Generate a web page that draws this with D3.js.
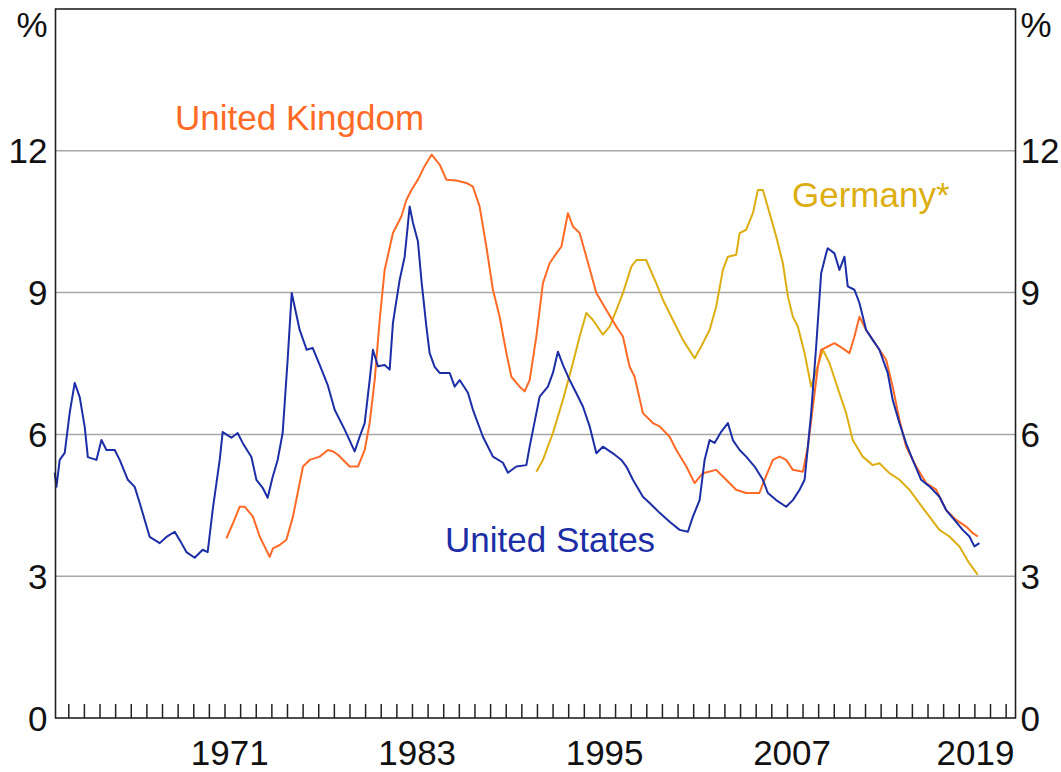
<!DOCTYPE html>
<html>
<head>
<meta charset="UTF-8">
<title>Unemployment Rates</title>
<script src="https://d3js.org/d3.v7.min.js"></script>
<style>
  body { margin: 0; background: #fff; }
  text { font-family: "Liberation Sans", Arial, sans-serif; }
</style>
</head>
<body>
<div id="chart"></div>
<script>
// values: [decimal year, per cent]
const usData = [
  [1960.10, 5.19], [1960.21, 4.89], [1960.42, 5.46], [1960.74, 5.61], [1961.06, 6.46],
  [1961.38, 7.09], [1961.70, 6.79], [1962.02, 6.16], [1962.22, 5.52], [1962.77, 5.46],
  [1963.09, 5.88], [1963.41, 5.67], [1963.94, 5.67], [1964.26, 5.46], [1964.78, 5.04],
  [1965.22, 4.89], [1965.54, 4.55], [1966.18, 3.83], [1966.82, 3.70], [1967.25, 3.83],
  [1967.78, 3.94], [1968.21, 3.70], [1968.53, 3.51], [1969.06, 3.39], [1969.57, 3.56],
  [1969.89, 3.51], [1970.21, 4.40], [1970.66, 5.46], [1970.85, 6.05], [1971.41, 5.93],
  [1971.81, 6.03], [1972.13, 5.82], [1972.69, 5.52], [1973.01, 5.04], [1973.41, 4.87],
  [1973.73, 4.66], [1974.05, 5.10], [1974.37, 5.46], [1974.69, 6.03], [1975.01, 7.58],
  [1975.27, 8.99], [1975.78, 8.21], [1976.23, 7.79], [1976.61, 7.83], [1977.06, 7.47],
  [1977.57, 7.05], [1978.02, 6.52], [1978.66, 6.10], [1979.30, 5.64], [1979.62, 5.95],
  [1979.94, 6.24], [1980.26, 7.15], [1980.47, 7.79], [1980.79, 7.44], [1981.22, 7.47],
  [1981.54, 7.37], [1981.75, 8.36], [1982.18, 9.27], [1982.50, 9.76], [1982.82, 10.82],
  [1983.03, 10.48], [1983.35, 10.08], [1983.57, 9.27], [1983.89, 8.28], [1984.10, 7.72],
  [1984.42, 7.43], [1984.74, 7.30], [1985.38, 7.30], [1985.70, 7.01], [1986.02, 7.15],
  [1986.55, 6.88], [1986.87, 6.52], [1987.51, 5.95], [1988.15, 5.53], [1988.79, 5.40],
  [1989.11, 5.19], [1989.65, 5.32], [1990.29, 5.35], [1990.50, 5.74], [1990.93, 6.45],
  [1991.14, 6.80], [1991.67, 7.01], [1991.99, 7.30], [1992.31, 7.75], [1992.63, 7.47],
  [1993.06, 7.15], [1993.49, 6.87], [1993.91, 6.59], [1994.34, 6.17], [1994.77, 5.60],
  [1995.19, 5.74], [1995.83, 5.60], [1996.37, 5.46], [1996.69, 5.32], [1997.11, 5.04],
  [1997.75, 4.68], [1998.18, 4.55], [1998.82, 4.34], [1999.46, 4.15], [2000.10, 3.98],
  [2000.63, 3.94], [2000.95, 4.26], [2001.38, 4.61], [2001.70, 5.46], [2002.02, 5.88],
  [2002.34, 5.82], [2002.77, 6.06], [2003.19, 6.24], [2003.51, 5.88], [2003.94, 5.67],
  [2004.36, 5.53], [2004.90, 5.32], [2005.43, 5.04], [2005.75, 4.76], [2006.28, 4.61],
  [2006.92, 4.47], [2007.35, 4.61], [2007.78, 4.83], [2008.10, 5.04], [2008.31, 5.74],
  [2008.52, 6.45], [2008.84, 7.86], [2009.16, 9.41], [2009.48, 9.83], [2009.58, 9.94],
  [2010.01, 9.83], [2010.33, 9.48], [2010.65, 9.76], [2010.86, 9.13], [2011.29, 9.06],
  [2011.61, 8.78], [2012.04, 8.21], [2012.46, 8.00], [2012.89, 7.79], [2013.42, 7.30],
  [2013.74, 6.73], [2014.17, 6.24], [2014.60, 5.81], [2015.02, 5.46], [2015.56, 5.04],
  [2016.09, 4.90], [2016.73, 4.68], [2017.16, 4.40], [2017.69, 4.19], [2018.22, 3.98],
  [2018.65, 3.84], [2018.97, 3.63], [2019.29, 3.70]
];

const ukData = [
  [1971.09, 3.80], [1971.51, 4.12], [1971.94, 4.47], [1972.26, 4.47], [1972.79, 4.26],
  [1973.22, 3.84], [1973.86, 3.41], [1974.07, 3.59], [1974.50, 3.66], [1974.93, 3.77],
  [1975.35, 4.26], [1975.99, 5.32], [1976.42, 5.46], [1977.06, 5.53], [1977.59, 5.67],
  [1977.91, 5.64], [1978.23, 5.57], [1978.98, 5.32], [1979.51, 5.32], [1979.94, 5.67],
  [1980.26, 6.24], [1980.58, 7.15], [1980.90, 8.42], [1981.22, 9.48], [1981.75, 10.26],
  [1982.29, 10.61], [1982.61, 10.96], [1982.93, 11.17], [1983.35, 11.39], [1983.78, 11.68],
  [1984.23, 11.92], [1984.74, 11.71], [1985.17, 11.39], [1985.81, 11.37], [1986.45, 11.32],
  [1986.87, 11.24], [1987.30, 10.82], [1987.73, 9.97], [1988.15, 9.06], [1988.58, 8.49],
  [1989.01, 7.72], [1989.33, 7.22], [1989.86, 7.01], [1990.18, 6.91], [1990.50, 7.15],
  [1990.93, 8.07], [1991.35, 9.20], [1991.78, 9.62], [1992.21, 9.83], [1992.53, 9.97],
  [1992.95, 10.68], [1993.27, 10.40], [1993.70, 10.26], [1994.13, 9.76], [1994.77, 8.99],
  [1995.41, 8.63], [1996.05, 8.28], [1996.47, 8.07], [1996.90, 7.43], [1997.22, 7.22],
  [1997.75, 6.45], [1998.39, 6.24], [1998.82, 6.17], [1999.46, 5.95], [1999.89, 5.67],
  [2000.53, 5.32], [2001.06, 4.97], [2001.59, 5.18], [2002.44, 5.25], [2003.08, 5.04],
  [2003.72, 4.83], [2004.36, 4.76], [2005.21, 4.76], [2005.53, 5.04], [2006.07, 5.46],
  [2006.49, 5.53], [2006.92, 5.46], [2007.35, 5.25], [2007.99, 5.21], [2008.31, 5.74],
  [2008.63, 6.59], [2008.95, 7.43], [2009.16, 7.79], [2009.59, 7.86], [2010.01, 7.93],
  [2010.54, 7.82], [2010.97, 7.72], [2011.29, 8.07], [2011.61, 8.49], [2012.04, 8.21],
  [2012.46, 8.00], [2012.89, 7.79], [2013.32, 7.58], [2013.74, 7.01], [2014.17, 6.31],
  [2014.60, 5.74], [2015.24, 5.32], [2015.88, 4.97], [2016.52, 4.83], [2017.16, 4.40],
  [2017.80, 4.19], [2018.44, 4.05], [2018.87, 3.91], [2019.19, 3.84]
];

const deData = [
  [1990.93, 5.21], [1991.35, 5.46], [1991.99, 6.03], [1992.63, 6.73], [1993.27, 7.51],
  [1993.70, 8.07], [1994.13, 8.57], [1994.55, 8.42], [1995.19, 8.11], [1995.62, 8.28],
  [1996.05, 8.63], [1996.47, 8.99], [1997.01, 9.55], [1997.33, 9.69], [1997.96, 9.69],
  [1998.60, 9.20], [1999.03, 8.85], [1999.67, 8.42], [2000.31, 8.00], [2001.06, 7.61],
  [2001.48, 7.86], [2002.02, 8.21], [2002.44, 8.70], [2002.87, 9.48], [2003.19, 9.76],
  [2003.72, 9.80], [2003.94, 10.26], [2004.36, 10.33], [2004.79, 10.68], [2005.11, 11.17],
  [2005.43, 11.17], [2005.86, 10.68], [2006.28, 10.19], [2006.71, 9.62], [2007.03, 8.92],
  [2007.35, 8.49], [2007.67, 8.28], [2008.10, 7.72], [2008.52, 7.01], [2009.27, 7.79],
  [2009.69, 7.51], [2010.33, 6.87], [2010.76, 6.45], [2011.18, 5.88], [2011.82, 5.53],
  [2012.46, 5.35], [2012.89, 5.39], [2013.53, 5.18], [2014.17, 5.04], [2014.81, 4.83],
  [2015.45, 4.54], [2016.09, 4.26], [2016.73, 3.98], [2017.37, 3.84], [2018.01, 3.63],
  [2018.65, 3.27], [2019.19, 3.03]
];

const yTicks = [0, 3, 6, 9, 12];
const xLabelYears = [1971, 1983, 1995, 2007, 2019];
const xTickYears = d3.range(1961, 2022);

const series = [
  { name: "United States", data: usData, color: "#1c2ea6", lx: 445, ly: 552 },
  { name: "United Kingdom", data: ukData, color: "#ff6a26", lx: 175, ly: 130 },
  { name: "Germany*", data: deData, color: "#dcae12", lx: 792, ly: 207 }
];

const W = 1061, H = 772;
const pLeft = 55.5, pRight = 1015.5, pTop = 9, pBottom = 718;

const svg = d3.select("#chart").append("svg")
  .attr("width", W).attr("height", H);

const x = d3.scaleLinear().domain([1960.15, 2021.6]).range([pLeft, pRight]);
const y = d3.scaleLinear().domain([0, 15]).range([pBottom, pTop]);

// gridlines
svg.append("g").selectAll("line")
  .data(yTicks.filter(d => d > 0))
  .join("line")
  .attr("x1", pLeft).attr("x2", pRight)
  .attr("y1", d => y(d)).attr("y2", d => y(d))
  .attr("stroke", "#a8a8a8").attr("stroke-width", 1.5);

// series lines (Germany under UK under US)
const line = d3.line().x(d => x(d[0])).y(d => y(d[1]));
svg.append("g").selectAll("path")
  .data(series.slice().reverse())
  .join("path")
  .attr("d", d => line(d.data))
  .attr("fill", "none")
  .attr("stroke", d => d.color)
  .attr("stroke-width", 2)
  .attr("stroke-linejoin", "round");

// frame
svg.append("rect")
  .attr("x", pLeft).attr("y", pTop)
  .attr("width", pRight - pLeft).attr("height", pBottom - pTop)
  .attr("fill", "none").attr("stroke", "#222").attr("stroke-width", 1.6);

// year ticks, pointing up from the bottom
svg.append("g").selectAll("line")
  .data(xTickYears)
  .join("line")
  .attr("x1", d => x(d)).attr("x2", d => x(d))
  .attr("y1", pBottom).attr("y2", pBottom - 14)
  .attr("stroke", "#222").attr("stroke-width", 1.5);

// year labels
svg.append("g").selectAll("text")
  .data(xLabelYears)
  .join("text")
  .attr("x", d => Math.min(x(d + 0.3), pRight - 40))
  .attr("y", 765)
  .attr("text-anchor", "middle")
  .attr("font-size", 35)
  .attr("fill", "#111")
  .text(d => d);

// y labels both sides
const yl = svg.append("g").attr("font-size", 35).attr("fill", "#111");
yl.selectAll(".yl").data(yTicks).join("text")
  .attr("class", "yl")
  .attr("x", pLeft - 8).attr("y", d => y(d) + 12.5)
  .attr("text-anchor", "end").text(d => d);
yl.selectAll(".yr").data(yTicks).join("text")
  .attr("class", "yr")
  .attr("x", pRight + 5).attr("y", d => y(d) + 12.5)
  .attr("text-anchor", "start").text(d => d);
yl.append("text").attr("x", pLeft - 8).attr("y", 37).attr("text-anchor", "end").text("%");
yl.append("text").attr("x", pRight + 5).attr("y", 37).attr("text-anchor", "start").text("%");

// series labels
svg.append("g").selectAll("text")
  .data(series)
  .join("text")
  .attr("x", d => d.lx).attr("y", d => d.ly)
  .attr("font-size", 35)
  .attr("fill", d => d.color)
  .text(d => d.name);
</script>
</body>
</html>
